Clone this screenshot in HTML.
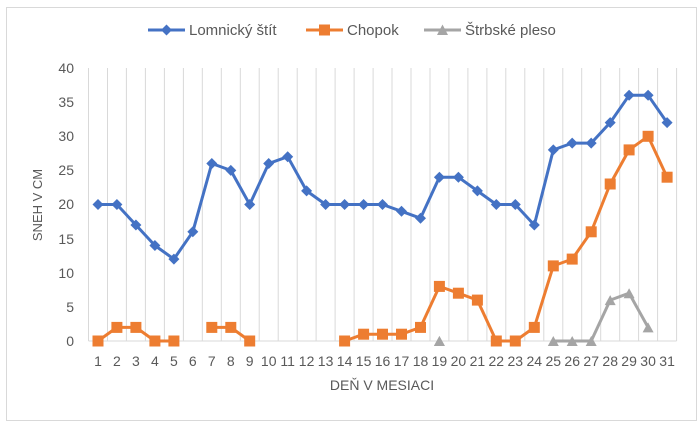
<!DOCTYPE html>
<html><head><meta charset="utf-8"><style>
html,body{margin:0;padding:0;background:#fff;}
svg{display:block;font-family:"Liberation Sans",sans-serif;}
</style></head><body>
<svg width="700" height="426" viewBox="0 0 700 426">
<defs>
<marker id="dia" markerUnits="userSpaceOnUse" markerWidth="14" markerHeight="14" refX="7" refY="7"><path d="M7 1.5 L12.5 7 L7 12.5 L1.5 7 Z" fill="#4472c4"/></marker>
<marker id="sq" markerUnits="userSpaceOnUse" markerWidth="14" markerHeight="14" refX="7" refY="7"><rect x="1.5" y="1.5" width="11" height="11" fill="#ed7d31"/></marker>
<marker id="tri" markerUnits="userSpaceOnUse" markerWidth="14" markerHeight="14" refX="7" refY="7"><path d="M7 2 L12.5 12 L1.5 12 Z" fill="#a5a5a5"/></marker>
</defs>
<rect x="6.5" y="7.5" width="690" height="413" fill="#fff" stroke="#d9d9d9"/>
<g stroke="#d9d9d9" stroke-width="1">
<line x1="88.5" y1="68" x2="88.5" y2="341"/><line x1="107.5" y1="68" x2="107.5" y2="341"/><line x1="126.4" y1="68" x2="126.4" y2="341"/><line x1="145.4" y1="68" x2="145.4" y2="341"/><line x1="164.4" y1="68" x2="164.4" y2="341"/><line x1="183.4" y1="68" x2="183.4" y2="341"/><line x1="202.3" y1="68" x2="202.3" y2="341"/><line x1="221.3" y1="68" x2="221.3" y2="341"/><line x1="240.3" y1="68" x2="240.3" y2="341"/><line x1="259.2" y1="68" x2="259.2" y2="341"/><line x1="278.2" y1="68" x2="278.2" y2="341"/><line x1="297.2" y1="68" x2="297.2" y2="341"/><line x1="316.1" y1="68" x2="316.1" y2="341"/><line x1="335.1" y1="68" x2="335.1" y2="341"/><line x1="354.1" y1="68" x2="354.1" y2="341"/><line x1="373.1" y1="68" x2="373.1" y2="341"/><line x1="392" y1="68" x2="392" y2="341"/><line x1="411" y1="68" x2="411" y2="341"/><line x1="430" y1="68" x2="430" y2="341"/><line x1="448.9" y1="68" x2="448.9" y2="341"/><line x1="467.9" y1="68" x2="467.9" y2="341"/><line x1="486.9" y1="68" x2="486.9" y2="341"/><line x1="505.8" y1="68" x2="505.8" y2="341"/><line x1="524.8" y1="68" x2="524.8" y2="341"/><line x1="543.8" y1="68" x2="543.8" y2="341"/><line x1="562.8" y1="68" x2="562.8" y2="341"/><line x1="581.7" y1="68" x2="581.7" y2="341"/><line x1="600.7" y1="68" x2="600.7" y2="341"/><line x1="619.7" y1="68" x2="619.7" y2="341"/><line x1="638.6" y1="68" x2="638.6" y2="341"/><line x1="657.6" y1="68" x2="657.6" y2="341"/><line x1="676.6" y1="68" x2="676.6" y2="341"/>
<line x1="88.5" y1="341" x2="676.6" y2="341"/>
</g>
<g fill="#595959" font-size="14" text-anchor="end">
<text x="74" y="73">40</text>
<text x="74" y="107">35</text>
<text x="74" y="141">30</text>
<text x="74" y="175">25</text>
<text x="74" y="209">20</text>
<text x="74" y="244">15</text>
<text x="74" y="278">10</text>
<text x="74" y="312">5</text>
<text x="74" y="346">0</text>
</g>
<text transform="translate(42,205) rotate(-90)" fill="#595959" font-size="13" text-anchor="middle">SNEH V CM</text>
<g fill="#595959" font-size="14" text-anchor="middle">
<text x="98" y="366">1</text><text x="116.9" y="366">2</text><text x="135.9" y="366">3</text><text x="154.9" y="366">4</text><text x="173.9" y="366">5</text><text x="192.8" y="366">6</text><text x="211.8" y="366">7</text><text x="230.8" y="366">8</text><text x="249.7" y="366">9</text><text x="268.7" y="366">10</text><text x="287.7" y="366">11</text><text x="306.6" y="366">12</text><text x="325.6" y="366">13</text><text x="344.6" y="366">14</text><text x="363.6" y="366">15</text><text x="382.5" y="366">16</text><text x="401.5" y="366">17</text><text x="420.5" y="366">18</text><text x="439.4" y="366">19</text><text x="458.4" y="366">20</text><text x="477.4" y="366">21</text><text x="496.3" y="366">22</text><text x="515.3" y="366">23</text><text x="534.3" y="366">24</text><text x="553.3" y="366">25</text><text x="572.2" y="366">26</text><text x="591.2" y="366">27</text><text x="610.2" y="366">28</text><text x="629.1" y="366">29</text><text x="648.1" y="366">30</text><text x="667.1" y="366">31</text>
</g>
<text x="382" y="390" fill="#595959" font-size="14" text-anchor="middle">DEŇ V MESIACI</text>
<g fill="none" stroke-width="3" stroke-linejoin="round">
<polyline stroke="#4472c4" marker-start="url(#dia)" marker-mid="url(#dia)" marker-end="url(#dia)" points="98,204.5 116.9,204.5 135.9,225 154.9,245.5 173.9,259.1 192.8,231.8 211.8,163.5 230.8,170.4 249.7,204.5 268.7,163.5 287.7,156.7 306.6,190.9 325.6,204.5 344.6,204.5 363.6,204.5 382.5,204.5 401.5,211.3 420.5,218.2 439.4,177.2 458.4,177.2 477.4,190.9 496.3,204.5 515.3,204.5 534.3,225 553.3,149.9 572.2,143.1 591.2,143.1 610.2,122.6 629.1,95.3 648.1,95.3 667.1,122.6"/>
<polyline stroke="#ed7d31" marker-start="url(#sq)" marker-mid="url(#sq)" marker-end="url(#sq)" points="98,341 116.9,327.4 135.9,327.4 154.9,341 173.9,341"/>
<polyline stroke="#ed7d31" marker-start="url(#sq)" marker-mid="url(#sq)" marker-end="url(#sq)" points="211.8,327.4 230.8,327.4 249.7,341"/>
<polyline stroke="#ed7d31" marker-start="url(#sq)" marker-mid="url(#sq)" marker-end="url(#sq)" points="344.6,341 363.6,334.2 382.5,334.2 401.5,334.2 420.5,327.4 439.4,286.4 458.4,293.2 477.4,300.1 496.3,341 515.3,341 534.3,327.4 553.3,265.9 572.2,259.1 591.2,231.8 610.2,184 629.1,149.9 648.1,136.3 667.1,177.2"/>
<polyline stroke="#a5a5a5" marker-start="url(#tri)" marker-end="url(#tri)" points="439.4,341 439.4,341"/>
<polyline stroke="#a5a5a5" marker-start="url(#tri)" marker-mid="url(#tri)" marker-end="url(#tri)" points="553.3,341 572.2,341 591.2,341 610.2,300.1 629.1,293.2 648.1,327.4"/>
</g>
<g font-size="15" fill="#595959">
<line x1="148" y1="30" x2="185" y2="30" stroke="#4472c4" stroke-width="3"/><path d="M166.5 24.5 L172 30 L166.5 35.5 L161 30 Z" fill="#4472c4"/>
<text x="189" y="35">Lomnický štít</text>
<line x1="306" y1="30" x2="343" y2="30" stroke="#ed7d31" stroke-width="3"/><rect x="319" y="24.5" width="11" height="11" fill="#ed7d31"/>
<text x="347" y="35">Chopok</text>
<line x1="424" y1="30" x2="461" y2="30" stroke="#a5a5a5" stroke-width="3"/><path d="M442.5 24.5 L448 35 L437 35 Z" fill="#a5a5a5"/>
<text x="465" y="35">Štrbské pleso</text>
</g>
</svg>
</body></html>
